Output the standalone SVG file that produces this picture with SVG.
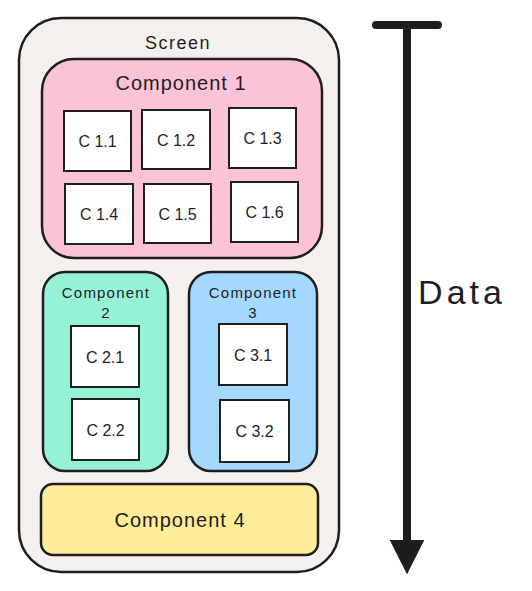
<svg xmlns="http://www.w3.org/2000/svg" width="532" height="591" viewBox="0 0 532 591">
<style>
.box{stroke:#1e1e1e;stroke-width:2.5;stroke-linejoin:round}
.small{fill:#ffffff;stroke:#1e1e1e;stroke-width:2}
text{font-family:"Liberation Sans","DejaVu Sans",sans-serif;fill:#1e1e1e;text-anchor:middle}
.t16{font-size:16px}
.t20{font-size:20px;letter-spacing:1px}
.t15{font-size:15px;letter-spacing:1.2px}
</style>
<defs>
<marker id="head" viewBox="0 0 10 10" refX="0" refY="5" markerWidth="4.3" markerHeight="4.3" orient="auto" markerUnits="strokeWidth">
<path d="M0,0 L10,5 L0,10 Z" fill="#1e1e1e"/>
</marker>
</defs>
<rect width="532" height="591" fill="#ffffff"/>
<g id="screen">
<rect class="box" x="19" y="18" width="320" height="554" rx="42" fill="#f5f0ee"/>
<text x="178" y="49" style="font-size:18px;letter-spacing:1.5px">Screen</text>
</g>
<g id="component1">
<rect class="box" x="42" y="59" width="280" height="199" rx="32" fill="#fcc2d7"/>
<text class="t20" x="181" y="90">Component 1</text>
</g>
<g id="c11"><rect class="small" x="64" y="111" width="67" height="60"/><text class="t16" x="97.5" y="147">C 1.1</text></g>
<g id="c12"><rect class="small" x="142" y="110" width="68" height="59"/><text class="t16" x="176" y="145.5">C 1.2</text></g>
<g id="c13"><rect class="small" x="229" y="108" width="67" height="60"/><text class="t16" x="262.5" y="144">C 1.3</text></g>
<g id="c14"><rect class="small" x="65" y="184" width="68" height="60"/><text class="t16" x="99" y="220">C 1.4</text></g>
<g id="c15"><rect class="small" x="144" y="184" width="67" height="59"/><text class="t16" x="177.5" y="219.5">C 1.5</text></g>
<g id="c16"><rect class="small" x="231" y="182" width="67" height="60"/><text class="t16" x="264.5" y="218">C 1.6</text></g>
<g id="component2">
<rect class="box" x="43" y="272" width="125" height="199" rx="22" fill="#96f2d7"/>
<text class="t15" x="106" y="298">Component</text>
<text class="t15" x="106" y="318">2</text>
</g>
<g id="c21"><rect class="small" x="71" y="326" width="68" height="61"/><text class="t16" x="105" y="362.5">C 2.1</text></g>
<g id="c22"><rect class="small" x="72" y="399" width="67" height="61"/><text class="t16" x="105.5" y="435.5">C 2.2</text></g>
<g id="component3">
<rect class="box" x="189" y="272" width="128" height="199" rx="22" fill="#a5d8ff"/>
<text class="t15" x="253" y="298">Component</text>
<text class="t15" x="253" y="318">3</text>
</g>
<g id="c31"><rect class="small" x="219" y="324" width="68" height="61"/><text class="t16" x="253" y="360.5">C 3.1</text></g>
<g id="c32"><rect class="small" x="220" y="400" width="69" height="62"/><text class="t16" x="254.5" y="437">C 3.2</text></g>
<g id="component4">
<rect class="box" x="41" y="484" width="277" height="71" rx="12" fill="#ffec99"/>
<text class="t20" x="180" y="527">Component 4</text>
</g>
<g id="connectors">
<line x1="376" y1="25" x2="438" y2="25" stroke="#1e1e1e" stroke-width="8" stroke-linecap="round"/>
<line x1="407" y1="25" x2="407" y2="540" stroke="#1e1e1e" stroke-width="8" stroke-linecap="butt" marker-end="url(#head)"/>
<text x="462" y="304" style="font-size:34px;letter-spacing:4px">Data</text>
</g>
</svg>
